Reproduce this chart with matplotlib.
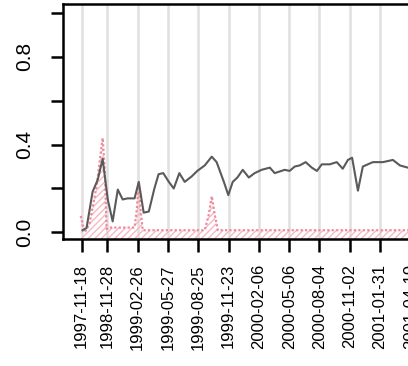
import matplotlib
matplotlib.use("Agg")
import matplotlib.pyplot as plt
import numpy as np

plt.rcParams['font.family'] = ['Liberation Sans', 'DejaVu Sans']
plt.rcParams['hatch.linewidth'] = 1.0

# tick labels (dates) and their observation index
date_labels = ['1997-11-18', '1998-11-28', '1999-02-26', '1999-05-27', '1999-08-25',
               '1999-11-23', '2000-02-06', '2000-05-06', '2000-08-04', '2000-11-02',
               '2001-01-31', '2001-04-19']
date_pos = [0, 11, 24, 37, 50, 63, 76, 89, 102, 115, 128, 141]

# grey series (index, value)
grey_x = [0.4, 2.1, 4.7, 6.9, 9.0, 11.2, 13.3, 15.5, 17.6, 19.7, 22.7, 24.5, 26.6, 28.8,
          31.2, 33.0, 35.0, 37.4, 39.5, 41.9, 44.2, 47.2, 49.6, 52.8, 55.8, 57.9, 61.0,
          62.9, 64.8, 66.8, 69.1, 71.7, 74.2, 77.2, 80.7, 82.8, 87.1, 89.2, 91.4, 93.5,
          96.1, 98.7, 100.9, 103.0, 106.4, 109.4, 112.0, 114.2, 116.0, 118.5, 120.6,
          124.9, 129.2, 133.5, 136.5, 139.9]
grey_y = [0.01, 0.02, 0.185, 0.24, 0.335, 0.15, 0.05, 0.195, 0.15, 0.155, 0.155, 0.23,
          0.09, 0.095, 0.2, 0.265, 0.27, 0.23, 0.2, 0.27, 0.23, 0.255, 0.28, 0.305, 0.345,
          0.32, 0.23, 0.17, 0.23, 0.25, 0.285, 0.25, 0.27, 0.285, 0.295, 0.27, 0.285,
          0.28, 0.30, 0.305, 0.32, 0.295, 0.28, 0.31, 0.31, 0.32, 0.29, 0.33, 0.34, 0.19,
          0.30, 0.32, 0.32, 0.33, 0.305, 0.295]

# pink (dotted, hatched) series
pink_x = [-0.4, 1.3, 3.4, 6.4, 9.0, 9.9, 10.7, 11.2, 22.7, 23.6, 24.5, 25.3, 26.2,
          52.8, 54.5, 55.8, 57.1, 58.4, 170]
pink_y = [0.075, 0.0, 0.04, 0.21, 0.43, 0.29, 0.015, 0.022, 0.022, 0.1, 0.22, 0.1, 0.01,
          0.01, 0.08, 0.165, 0.08, 0.01, 0.01]

y_ticks = [0.0, 0.2, 0.4, 0.6, 0.8, 1.0]
y_ticklabels = ['0.0', '', '0.4', '', '0.8', '']

fig = plt.figure(figsize=(4.08, 3.66), dpi=100)
ax = fig.add_axes([63 / 408, 1 - 239 / 366, (478 - 63) / 408, 235 / 366])

for p in date_pos:
    ax.axvline(p, color='#e0e0e0', lw=1.8, zorder=0)

ax.fill_between(pink_x, pink_y, -0.05, facecolor='none', edgecolor='#f7b8c2',
                linewidth=0, hatch='/////', zorder=1)
ax.plot(pink_x, pink_y, color='#f08a9a', lw=1.6, ls=(0, (1, 1)), zorder=2)
ax.plot(grey_x, grey_y, color='#5a5a5a', lw=1.5, zorder=3)

ax.set_xlim(-8, 170)
ax.set_ylim(-0.03, 1.04)

ax.set_xticks(date_pos)
ax.set_xticklabels(date_labels, rotation=90, fontsize=12)
ax.set_yticks(y_ticks)
ax.set_yticklabels(y_ticklabels, rotation=90, fontsize=15, va='center')

ax.tick_params(axis='both', direction='out', length=9, width=1.8, color='black')
ax.tick_params(axis='x', pad=9)
ax.tick_params(axis='y', pad=12)
for s in ax.spines.values():
    s.set_linewidth(1.8)

fig.savefig('out.png', dpi=100)
